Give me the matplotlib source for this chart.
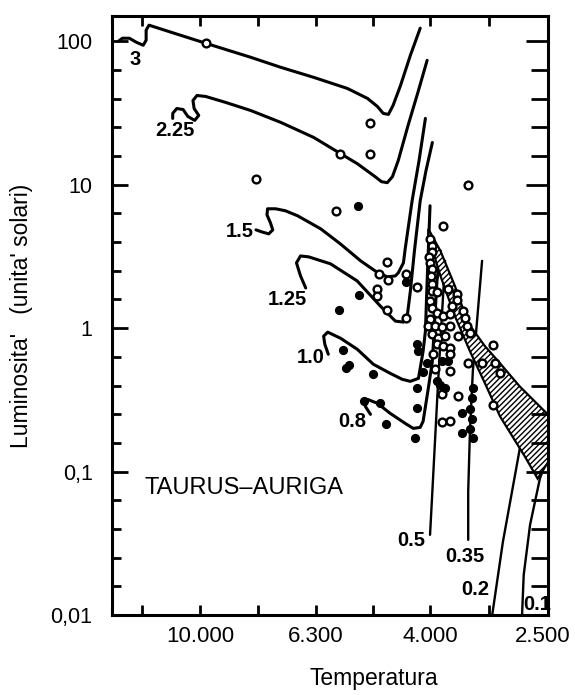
import matplotlib
matplotlib.use('Agg')
import matplotlib.pyplot as plt
import matplotlib.transforms as mtransforms
import numpy as np
from matplotlib.ticker import FixedLocator, FixedFormatter, NullFormatter

plt.rcParams['font.family'] = ['Liberation Sans', 'DejaVu Sans']
plt.rcParams['hatch.linewidth'] = 1.0

# pre-main-sequence tracks, log Teff / log L (solar units)
trk_30_t = [4.141, 4.134, 4.122, 4.110, 4.098, 4.093, 4.093, 4.088, 4.050, 3.990, 3.912,
            3.860, 3.803, 3.745, 3.710, 3.693, 3.683, 3.674, 3.666, 3.653, 3.636, 3.619]
trk_30_l = [2.000, 2.021, 2.021, 1.993, 1.972, 2.007, 2.077, 2.112, 2.063, 1.986, 1.888,
            1.818, 1.748, 1.671, 1.601, 1.545, 1.497, 1.490, 1.552, 1.692, 1.902, 2.091]

trk_225_t = [4.047, 4.047, 4.040, 4.029, 4.021, 4.009, 4.002, 4.010, 4.012, 4.005, 3.990,
             3.955, 3.912, 3.860, 3.803, 3.757, 3.728, 3.697, 3.686, 3.676, 3.667, 3.657,
             3.640, 3.622, 3.607]
trk_225_l = [1.462, 1.497, 1.531, 1.524, 1.476, 1.448, 1.483, 1.531, 1.587, 1.622, 1.615,
             1.573, 1.517, 1.434, 1.329, 1.217, 1.147, 1.056, 1.021, 1.014, 1.056, 1.168,
             1.413, 1.657, 1.867]

trk_15_t = [3.903, 3.893, 3.881, 3.874, 3.878, 3.884, 3.883, 3.869, 3.852, 3.831, 3.791,
            3.757, 3.722, 3.697, 3.676, 3.662, 3.657, 3.648, 3.645, 3.633, 3.621, 3.610]
trk_15_l = [0.685, 0.671, 0.657, 0.685, 0.734, 0.790, 0.832, 0.832, 0.818, 0.783, 0.692,
            0.587, 0.469, 0.399, 0.357, 0.364, 0.385, 0.455, 0.552, 0.888, 1.168, 1.462]

trk_125_t = [3.817, 3.826, 3.833, 3.826, 3.812, 3.774, 3.728, 3.688, 3.662, 3.648, 3.641,
             3.636, 3.629, 3.619, 3.609, 3.598]
trk_125_l = [0.280, 0.364, 0.455, 0.503, 0.497, 0.448, 0.329, 0.154, 0.049, 0.042, 0.098,
             0.259, 0.538, 0.888, 1.098, 1.294]

trk_10_t = [3.778, 3.784, 3.786, 3.779, 3.757, 3.728, 3.700, 3.671, 3.650, 3.636, 3.622,
            3.614, 3.610, 3.607, 3.602]
trk_10_l = [-0.182, -0.112, -0.056, -0.028, -0.070, -0.147, -0.252, -0.315, -0.357, -0.371,
            -0.350, -0.161, -0.021, 0.329, 0.853]

trk_08_t = [3.705, 3.714, 3.710, 3.693, 3.671, 3.645, 3.631, 3.619, 3.614, 3.605, 3.598,
            3.595, 3.590, 3.584]
trk_08_l = [-0.601, -0.545, -0.497, -0.524, -0.594, -0.664, -0.699, -0.692, -0.650, -0.420,
            -0.231, -0.021, 0.329, 0.538]

trk_05_t = [3.576, 3.588, 3.598, 3.602]
trk_05_l = [0.469, -0.371, -1.140, -1.441]

trk_035_t = [3.512, 3.528, 3.533, 3.536, 3.536]
trk_035_l = [0.469, -0.301, -0.720, -1.140, -1.476]

trk_02_t = [3.443, 3.453, 3.476, 3.495]
trk_02_l = [-0.755, -0.979, -1.490, -2.014]

trk_01_t = [3.443, 3.440, 3.429, 3.412, 3.398]
trk_01_l = [-2.014, -1.720, -1.371, -1.049, -0.895]

# main-sequence band (hatched)
band_t = [3.605, 3.584, 3.559, 3.536, 3.507, 3.481, 3.447, 3.395,
          3.395, 3.416, 3.438, 3.481, 3.507, 3.533, 3.559, 3.584, 3.605]
band_l = [0.692, 0.538, 0.294, 0.035, -0.126, -0.245, -0.406, -0.615,
          -0.916, -1.049, -0.895, -0.615, -0.385, -0.161, 0.084, 0.364, 0.643]

# stars: open and filled symbols
open_t = [3.990, 3.903, 3.705, 3.705, 3.757, 3.536, 3.764, 3.579, 3.676, 3.691, 3.674,
          3.643, 3.693, 3.693, 3.624, 3.676, 3.643,
          3.602, 3.598, 3.598, 3.603, 3.602, 3.598, 3.600, 3.598, 3.598, 3.590, 3.571,
          3.555, 3.555, 3.564, 3.602, 3.598, 3.590, 3.579, 3.567, 3.545, 3.541, 3.538,
          3.533, 3.602, 3.605, 3.593, 3.581, 3.567, 3.553, 3.598, 3.588, 3.576, 3.590,
          3.579, 3.567, 3.493, 3.597, 3.567, 3.593, 3.567, 3.536, 3.512, 3.490, 3.481,
          3.581, 3.553, 3.493, 3.581, 3.567]
open_l = [1.986, 1.042, 1.427, 1.217, 1.217, 1.000, 0.818, 0.713, 0.462, 0.378, 0.336,
          0.378, 0.273, 0.224, 0.287, 0.126, 0.070,
          0.622, 0.573, 0.531, 0.497, 0.455, 0.413, 0.364, 0.308, 0.259, 0.252, 0.273,
          0.238, 0.196, 0.154, 0.189, 0.140, 0.105, 0.084, 0.098, 0.119, 0.070, 0.014,
          -0.035, 0.063, 0.014, 0.014, 0.007, 0.014, -0.056, -0.042, -0.070, -0.056, -0.112,
          -0.126, -0.140, -0.119, -0.182, -0.182, -0.287, -0.301, -0.245, -0.245, -0.245, -0.315,
          -0.462, -0.476, -0.538, -0.657, -0.650]

fill_t = [3.726, 3.724, 3.760, 3.643, 3.753, 3.748, 3.743, 3.700, 3.717, 3.688, 3.679,
          3.624, 3.622, 3.614, 3.624, 3.624, 3.628, 3.581, 3.571, 3.607, 3.590, 3.584,
          3.576, 3.528, 3.529, 3.547, 3.533, 3.529, 3.533, 3.528, 3.547]
fill_l = [0.853, 0.231, 0.126, 0.322, -0.154, -0.280, -0.259, -0.322, -0.510, -0.524, -0.671,
          -0.112, -0.161, -0.308, -0.420, -0.559, -0.769, -0.231, -0.231, -0.245, -0.371, -0.399,
          -0.420, -0.420, -0.490, -0.594, -0.566, -0.636, -0.706, -0.769, -0.734]

# track mass labels
mass_labels = ['3', '2.25', '1.5', '1.25', '1.0', '0.8', '0.5', '0.35', '0.2', '0.1']
mass_lab_t = [4.112, 4.043, 3.931, 3.848, 3.809, 3.736, 3.634, 3.541, 3.524, 3.417]
mass_lab_l = [1.874, 1.378, 0.671, 0.203, -0.203, -0.650, -1.483, -1.594, -1.825, -1.930]

x_ticks = [10000, 6300, 4000, 2500]
x_tick_labels = ['10.000', '6.300', '4.000', '2.500']
y_ticks = [0.01, 0.1, 1, 10, 100]
y_tick_labels = ['0,01', '0,1', '1', '10', '100']


fig = plt.figure(figsize=(5.75, 6.95), dpi=100)
ax = fig.add_axes([0.1948, 0.1151, 0.7583, 0.8619])
ax.set_xscale('log')
ax.set_yscale('log')

thick = [(trk_30_t, trk_30_l), (trk_225_t, trk_225_l), (trk_15_t, trk_15_l),
         (trk_125_t, trk_125_l), (trk_10_t, trk_10_l), (trk_08_t, trk_08_l)]
thin = [(trk_05_t, trk_05_l), (trk_035_t, trk_035_l), (trk_02_t, trk_02_l), (trk_01_t, trk_01_l)]
for t, l in thick:
    ax.plot(10 ** np.array(t), 10 ** np.array(l), color='black', lw=2.2,
            solid_joinstyle='round', solid_capstyle='round', zorder=2)
for t, l in thin:
    ax.plot(10 ** np.array(t), 10 ** np.array(l), color='black', lw=1.7,
            solid_capstyle='round', zorder=2)

ax.fill(10 ** np.array(band_t), 10 ** np.array(band_l), facecolor='white',
        edgecolor='black', hatch='//////', lw=1.6, zorder=2)

ax.plot(10 ** np.array(open_t), 10 ** np.array(open_l), 'o', mfc='white', mec='black',
        ms=5.6, mew=1.7, zorder=4)
ax.plot(10 ** np.array(fill_t), 10 ** np.array(fill_l), 'o', color='black', ms=5.6, zorder=4)

for s, t, l in zip(mass_labels, mass_lab_t, mass_lab_l):
    ax.text(10 ** t, 10 ** l, s, fontsize=14.5, fontweight='bold', ha='center', va='center')

ax.text(10 ** 4.095, 10 ** -1.112, 'TAURUS\u2013AURIGA', fontsize=17, ha='left', va='center')

ax.set_xlim(10 ** 4.152, 2500)
ax.set_ylim(0.01, 150)

ax.xaxis.set_major_locator(FixedLocator(x_ticks))
ax.xaxis.set_major_formatter(FixedFormatter(x_tick_labels))
ax.xaxis.set_minor_locator(FixedLocator([10 ** 4.1, 10 ** 3.9, 10 ** 3.7, 10 ** 3.5]))
ax.xaxis.set_minor_formatter(NullFormatter())
ax.tick_params(axis='x', which='both', direction='in', top=True, bottom=True,
               length=7, width=2, labelsize=16, pad=8)

y_minor = [10 ** (d + f) for d in range(-2, 3) for f in (0.2, 0.4, 0.6, 0.8)]
ax.yaxis.set_major_locator(FixedLocator(y_ticks))
ax.yaxis.set_major_formatter(FixedFormatter(y_tick_labels))
ax.yaxis.set_minor_locator(FixedLocator(y_minor))
ax.yaxis.set_minor_formatter(NullFormatter())

ax2 = ax.twinx()
ax2.set_yscale('log')
ax2.set_ylim(0.01, 150)
ax2.yaxis.set_major_locator(FixedLocator(y_ticks))
ax2.yaxis.set_major_formatter(NullFormatter())
ax2.yaxis.set_minor_locator(FixedLocator(y_minor))
ax2.yaxis.set_minor_formatter(NullFormatter())
ax2.tick_params(axis='y', which='major', direction='in', length=16, width=2)
ax2.tick_params(axis='y', which='minor', direction='in', length=12, width=2)
for sp in ax2.spines.values():
    sp.set_visible(False)

ax.tick_params(axis='y', which='major', direction='in', length=11.5, width=2,
               labelsize=15.5, pad=14)
ax.tick_params(axis='y', which='minor', direction='in', length=6.5, width=2)
for sp in ax.spines.values():
    sp.set_linewidth(2.2)

# last tick label sits at the figure edge: nudge it left a few pixels
last = ax.get_xticklabels()[-1]
last.set_transform(last.get_transform() +
                   mtransforms.ScaledTranslation(-0.05, 0, fig.dpi_scale_trans))

ax.set_xlabel('Temperatura', fontsize=16.5)
ax.xaxis.set_label_coords(0.601, -0.086)
ax.set_ylabel("Luminosita'   (unita' solari)", fontsize=16.5)
ax.yaxis.set_label_coords(-0.181, 0.5)

fig.savefig('out.png', dpi=100)
